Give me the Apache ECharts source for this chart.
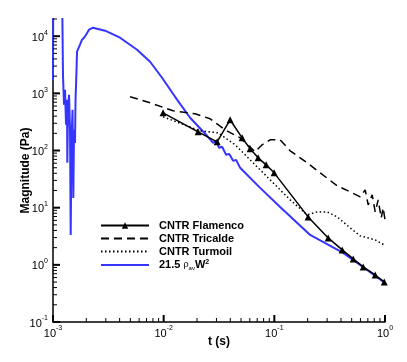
<!DOCTYPE html>
<html><head><meta charset="utf-8">
<script src="https://cdn.jsdelivr.net/npm/echarts@6/dist/echarts.min.js"></script>
<style>html,body{margin:0;padding:0;background:#fff}#c{width:407px;height:362px}</style>
</head><body><div id="c"></div>
<script>
// ---- data ----
const blueName = '21.5 rho_av W^2';
const blueT = [0.001, 0.001005, 0.00121, 0.001231, 0.001257, 0.001284, 0.001311, 0.001339, 0.001347, 0.001367, 0.001396, 0.001425, 0.001445, 0.00147, 0.001501, 0.001526, 0.001549, 0.001581, 0.001598, 0.001632, 0.001648, 0.001718, 0.001754, 0.001829, 0.001907, 0.001988, 0.002116, 0.0023, 0.002953, 0.004035, 0.005748, 0.007536, 0.009674, 0.01268, 0.01733, 0.02469, 0.02797, 0.02977, 0.0317, 0.03374, 0.03667, 0.03903, 0.04242, 0.04515, 0.04907, 0.07439, 0.1128, 0.2107, 0.4188, 0.5966, 1.0];
const blueV = [1700, 50000, 50000, 2117, 631, 1156, 282, 773, 60.9, 516, 945, 230, 3.34, 154, 516, 14.8, 230, 136, 773, 2590, 5352, 5800, 7099, 8684, 9413, 10622, 13000, 14090, 12480, 9413, 5800, 3575, 1876, 871, 374, 181, 136.4, 147.9, 111.5, 116.1, 84.1, 87.5, 66.0, 68.7, 49.8, 22.2, 10.3, 3.34, 1.616, 0.996, 0.482];

const flamT = [0.009876, 0.02047, 0.0304, 0.03985, 0.05117, 0.06044, 0.07139, 0.08433, 0.09961, 0.2021, 0.3066, 0.4104, 0.5161, 0.6353, 0.8156, 0.984];
const flamV = [457, 212, 142, 345, 167, 107, 74.5, 56.2, 40.7, 6.9, 2.96, 1.824, 1.268, 0.919, 0.665, 0.502];

const triT = [0.004968, 0.007536, 0.01216, 0.01923, 0.02627, 0.0359, 0.04907, 0.06707, 0.07757, 0.09165, 0.1128, 0.139, 0.198, 0.2596, 0.3698, 0.4848, 0.5969, 0.6625, 0.705, 0.766, 0.8156, 0.8685, 0.9243, 0.9636, 1.0];
const triV = [871, 684, 496, 439, 359, 230, 167, 94.9, 125.8, 154, 154, 98.8, 60.9, 40.7, 24.1, 18.9, 15.5, 20.5, 11.2, 16.8, 8.44, 13.7, 6.63, 9.92, 6.11];

const turT = [0.009876, 0.02135, 0.03103, 0.04421, 0.06044, 0.09165, 0.139, 0.198, 0.2438, 0.3002, 0.3698, 0.4848, 0.5969, 0.705, 0.8156, 0.984];
const turV = [389, 221, 204, 126, 68.7, 30.7, 13.7, 7.48, 8.44, 8.44, 6.9, 4.43, 3.21, 2.96, 2.73, 2.23];

const xMajor = [0.001, 0.01, 0.1, 1];
const yMajor = [0.1, 1, 10, 100, 1000, 10000];
const minorMult = [2, 3, 4, 5, 6, 7, 8, 9];
const xMin = 0.001, xMax = 1, yMin = 0.1, yMax = 20000;

// ---- build ----
const zip = (a, b) => a.map((v, i) => [v, b[i]]);
const FONT = 'Liberation Sans';

const xTicks = [], yTicks = [];
xMajor.forEach(m => { xTicks.push([m, yMin, 1]); minorMult.forEach(k => { const v = m * k; if (v < xMax) xTicks.push([v, yMin, 0]); }); });
yMajor.forEach(m => { yTicks.push([xMin, m, 1]); minorMult.forEach(k => { const v = m * k; if (v <= yMax) yTicks.push([xMin, v, 0]); }); });

function powLabel(v) {
  const l = Math.log10(v), e = Math.round(l);
  if (Math.abs(l - e) > 1e-6) return '';
  return '{b|10}{e|' + e + '}';
}
const labRich = {
  b: { fontSize: 11, fontFamily: FONT, color: '#000', lineHeight: 14, verticalAlign: 'bottom' },
  e: { fontSize: 7, fontFamily: FONT, color: '#000', lineHeight: 14, verticalAlign: 'top' }
};
const hideSym = { color: 'rgba(0,0,0,0)', borderColor: 'rgba(0,0,0,0)', borderWidth: 0 };

const chart = echarts.init(document.getElementById('c'), null, { renderer: 'canvas' });
chart.setOption({
  animation: false,
  backgroundColor: '#fff',
  grid: { left: 53, right: 22, top: 19, bottom: 40, containLabel: false },
  xAxis: {
    type: 'log', logBase: 10, min: xMin, max: xMax,
    name: 't (s)', nameLocation: 'middle', nameGap: 14, nameMoveOverlap: false,
    nameTextStyle: { fontFamily: FONT, fontWeight: 'bold', fontSize: 12, color: '#000' },
    axisLine: { show: true, onZero: false, lineStyle: { color: '#000', width: 1.5 } },
    axisTick: { show: false }, splitLine: { show: false }, minorTick: { show: false },
    axisLabel: { formatter: powLabel, margin: 3, rich: labRich }
  },
  yAxis: {
    type: 'log', logBase: 10, min: yMin, max: yMax,
    name: 'Magnitude (Pa)', nameLocation: 'middle', nameGap: 21, nameMoveOverlap: false,
    nameTextStyle: { fontFamily: FONT, fontWeight: 'bold', fontSize: 12, color: '#000' },
    axisLine: { show: true, onZero: false, lineStyle: { color: '#000', width: 1.5 } },
    axisTick: { show: false }, splitLine: { show: false }, minorTick: { show: false },
    axisLabel: { formatter: powLabel, margin: 5, rich: labRich }
  },
  legend: {
    data: [
      { name: 'CNTR Flamenco' },
      { name: 'CNTR Tricalde', itemStyle: hideSym },
      { name: 'CNTR Turmoil', itemStyle: hideSym },
      { name: blueName, itemStyle: hideSym }
    ],
    orient: 'vertical', left: 100, top: 220, padding: 0, itemWidth: 48, itemHeight: 8, itemGap: 2,
    formatter: function (n) {
      if (n === blueName) return '{n|21.5 }{r|\u03c1}{s|av}{n|W}{p|2}';
      return '{n|' + n + '}';
    },
    textStyle: {
      padding: [0, 0, 0, 5],
      rich: {
        n: { fontFamily: FONT, fontWeight: 'bold', fontSize: 11, color: '#000', lineHeight: 12 },
        r: { fontFamily: FONT, fontSize: 9, color: '#000', lineHeight: 12 },
        s: { fontFamily: FONT, fontSize: 6, color: '#000', lineHeight: 12, verticalAlign: 'bottom' },
        p: { fontFamily: FONT, fontWeight: 'bold', fontSize: 7, color: '#000', lineHeight: 12, verticalAlign: 'top' }
      }
    }
  },
  series: [
    { name: blueName, type: 'line', data: zip(blueT, blueV), showSymbol: false, symbol: 'none',
      lineStyle: { color: '#3535ff', width: 2 }, itemStyle: { color: '#3535ff' }, z: 2 },
    { name: 'CNTR Turmoil', type: 'line', data: zip(turT, turV), symbol: 'none',
      lineStyle: { color: '#000', width: 1.5, type: [1.5, 2.5] }, itemStyle: { color: '#000' }, z: 3 },
    { name: 'CNTR Tricalde', type: 'line', data: zip(triT, triV), symbol: 'none',
      lineStyle: { color: '#000', width: 1.5, type: [8, 5] }, itemStyle: { color: '#000' }, z: 3 },
    { name: 'CNTR Flamenco', type: 'line', data: zip(flamT, flamV), symbol: 'triangle', symbolSize: 7, showSymbol: true,
      lineStyle: { color: '#000', width: 1.5 }, itemStyle: { color: '#000' }, z: 4 },
    { type: 'custom', silent: true, z: 6, data: xTicks, clip: false,
      renderItem: function (p, api) {
        const c = api.coord([api.value(0), api.value(1)]); const maj = api.value(2) === 1;
        return { type: 'line', shape: { x1: c[0], y1: c[1], x2: c[0], y2: c[1] - (maj ? 7 : 4) },
          style: { stroke: '#000', lineWidth: maj ? 2 : 1 } };
      } },
    { type: 'custom', silent: true, z: 6, data: yTicks, clip: false,
      renderItem: function (p, api) {
        const c = api.coord([api.value(0), api.value(1)]); const maj = api.value(2) === 1;
        return { type: 'line', shape: { x1: c[0], y1: c[1], x2: c[0] + (maj ? 7 : 4), y2: c[1] },
          style: { stroke: '#000', lineWidth: maj ? 2 : 1 } };
      } }
  ]
});
</script></body></html>
